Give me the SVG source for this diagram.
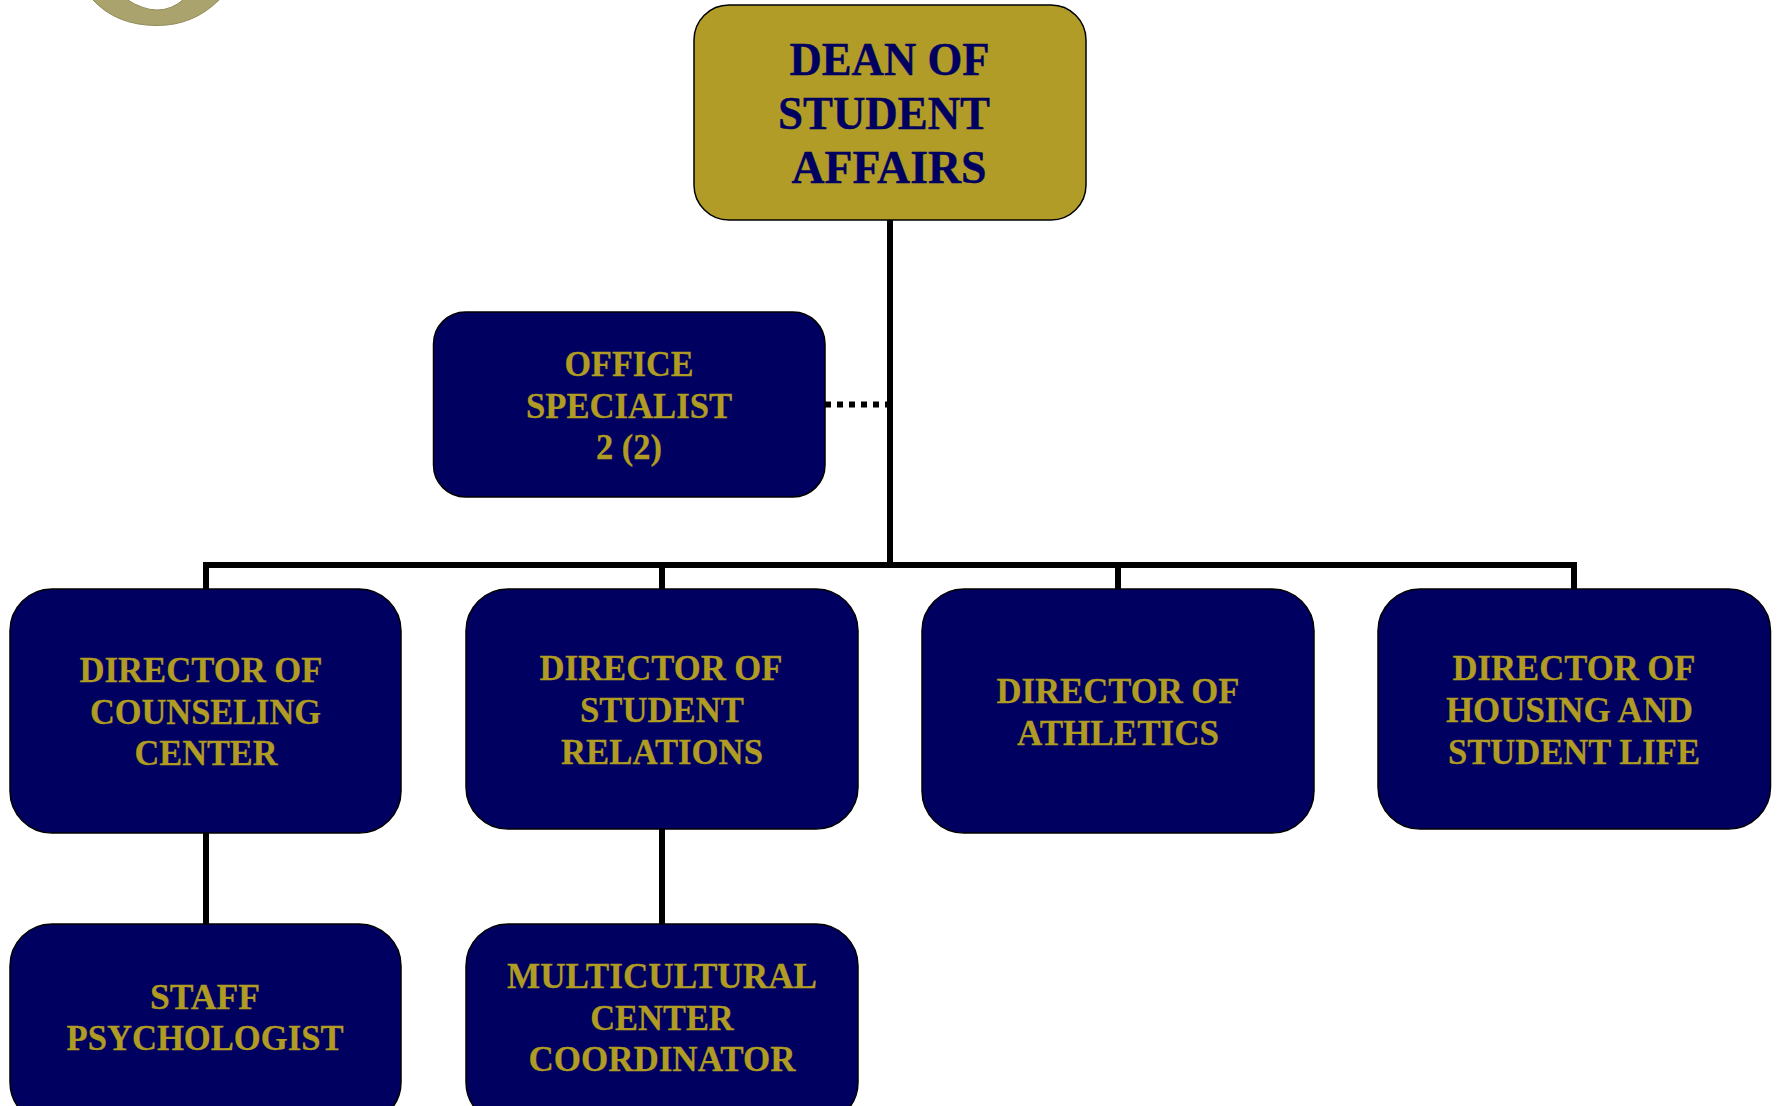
<svg xmlns="http://www.w3.org/2000/svg" width="1779" height="1106" viewBox="0 0 1779 1106">
<style>
text{font-family:"Liberation Serif","Times New Roman",serif;font-weight:bold;text-anchor:middle}
.box{fill:#000060;stroke:#000;stroke-width:1.5}
.dean{fill:#b19c27;stroke:#000;stroke-width:1.5}
.t{font-size:36.5px;fill:#b09c22;stroke:#b09c22;stroke-width:.3}
.d{font-size:47px;fill:#000060;stroke:#000060;stroke-width:.4}
.c{fill:none;stroke:#000;stroke-width:6}
.dot{fill:none;stroke:#000;stroke-width:6;stroke-dasharray:6 6}
</style>
<rect width="1779" height="1106" fill="#fff"/>
<path id="seal" d="M92 -1Q116 25.500 157 25.500Q194 25.500 220 -1H184Q172 10 157 10Q143 10 126 -1Z" fill="#aaa36d" stroke="#928c59" stroke-width="1"/>
<g id="connectors">
<path class="c" d="M890 220V568"/>
<path class="c" d="M206 589V565H1574V589"/>
<path class="c" d="M662 565V589M1118 565V589"/>
<path class="c" d="M206 833V924M662 829V924"/>
<path class="dot" d="M825 404.500H887"/>
</g>
<g id="dean"><rect class="dean" x="694" y="5" width="392" height="215" rx="35"/>
<text class="d" x="889.500" y="75" textLength="200" lengthAdjust="spacingAndGlyphs">DEAN OF</text><text class="d" x="884" y="129" textLength="212" lengthAdjust="spacingAndGlyphs">STUDENT</text><text class="d" x="889" y="183" textLength="195" lengthAdjust="spacingAndGlyphs">AFFAIRS</text></g>
<g id="office"><rect class="box" x="433.500" y="312" width="391.500" height="185" rx="32"/>
<text class="t" x="629" y="376" textLength="129" lengthAdjust="spacingAndGlyphs">OFFICE</text><text class="t" x="629" y="418" textLength="206" lengthAdjust="spacingAndGlyphs">SPECIALIST</text><text class="t" x="629" y="459" textLength="66" lengthAdjust="spacingAndGlyphs">2 (2)</text></g>
<g id="counseling"><rect class="box" x="10" y="589" width="391" height="244" rx="42"/>
<text class="t" x="201" y="682" textLength="243" lengthAdjust="spacingAndGlyphs">DIRECTOR OF</text><text class="t" x="205.500" y="723.500" textLength="231" lengthAdjust="spacingAndGlyphs">COUNSELING</text><text class="t" x="206" y="765" textLength="143" lengthAdjust="spacingAndGlyphs">CENTER</text></g>
<g id="relations"><rect class="box" x="466" y="589" width="392" height="240" rx="42"/>
<text class="t" x="661" y="680" textLength="243" lengthAdjust="spacingAndGlyphs">DIRECTOR OF</text><text class="t" x="662" y="722" textLength="164" lengthAdjust="spacingAndGlyphs">STUDENT</text><text class="t" x="662" y="764" textLength="202" lengthAdjust="spacingAndGlyphs">RELATIONS</text></g>
<g id="athletics"><rect class="box" x="922" y="589" width="392" height="244" rx="42"/>
<text class="t" x="1118" y="703" textLength="243" lengthAdjust="spacingAndGlyphs">DIRECTOR OF</text><text class="t" x="1118" y="745" textLength="202" lengthAdjust="spacingAndGlyphs">ATHLETICS</text></g>
<g id="housing"><rect class="box" x="1378" y="589" width="392.500" height="240" rx="42"/>
<text class="t" x="1574" y="680" textLength="243" lengthAdjust="spacingAndGlyphs">DIRECTOR OF</text><text class="t" x="1569.500" y="722" textLength="247" lengthAdjust="spacingAndGlyphs">HOUSING AND</text><text class="t" x="1574" y="764" textLength="252" lengthAdjust="spacingAndGlyphs">STUDENT LIFE</text></g>
<g id="psychologist"><rect class="box" x="10" y="924" width="391" height="200" rx="42"/>
<text class="t" x="205" y="1009" textLength="110" lengthAdjust="spacingAndGlyphs">STAFF</text><text class="t" x="205" y="1050" textLength="277" lengthAdjust="spacingAndGlyphs">PSYCHOLOGIST</text></g>
<g id="multicultural"><rect class="box" x="466" y="924" width="392" height="200" rx="42"/>
<text class="t" x="662" y="988" textLength="310" lengthAdjust="spacingAndGlyphs">MULTICULTURAL</text><text class="t" x="662" y="1030" textLength="143.500" lengthAdjust="spacingAndGlyphs">CENTER</text><text class="t" x="662" y="1071" textLength="267" lengthAdjust="spacingAndGlyphs">COORDINATOR</text></g>
</svg>
